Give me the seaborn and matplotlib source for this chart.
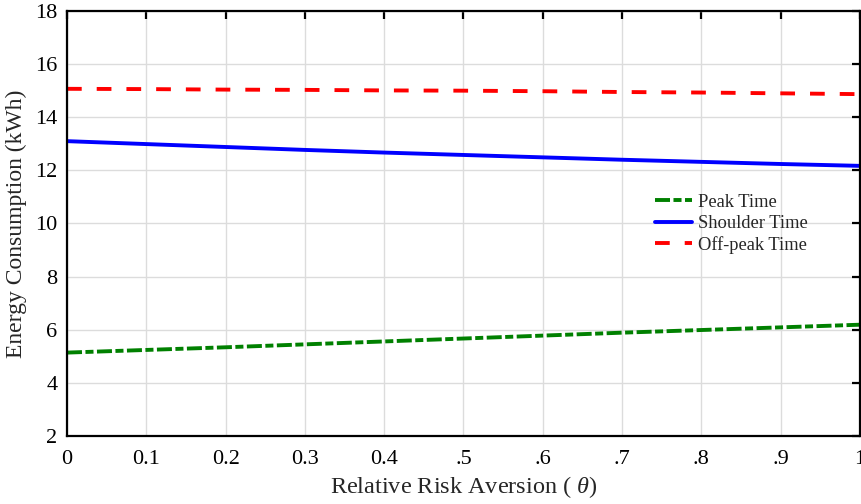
import numpy as np
import pandas as pd
import matplotlib
matplotlib.use("Agg")
import matplotlib.pyplot as plt
import seaborn as sns

theta = [0.0, 0.1, 0.2, 0.3, 0.4, 0.5, 0.6, 0.7, 0.8, 0.9, 1.0]
peak = [5.14, 5.24, 5.34, 5.45, 5.56, 5.67, 5.78, 5.89, 5.99, 6.09, 6.19]
shoulder = [13.10, 12.99, 12.88, 12.77, 12.67, 12.58, 12.49, 12.40, 12.32, 12.24, 12.17]
offpeak = [15.07, 15.06, 15.04, 15.03, 15.01, 15.00, 14.98, 14.95, 14.93, 14.90, 14.87]
series_names = ["Peak Time", "Shoulder Time", "Off-peak Time"]
series_colors = ["#008000", "#0000ff", "#ff0000"]
xtick_vals = [0, 0.1, 0.2, 0.3, 0.4, 0.5, 0.6, 0.7, 0.8, 0.9, 1.0]
xtick_labels = ["0", "0.1", "0.2", "0.3", "0.4", ".5", ".6", ".7", ".8", ".9", "1"]
ytick_vals = [2, 4, 6, 8, 10, 12, 14, 16, 18]

sns.set_style("white")
plt.rcParams["font.family"] = ["Liberation Serif", "DejaVu Serif"]
plt.rcParams["mathtext.fontset"] = "custom"
plt.rcParams["mathtext.it"] = "Liberation Serif:italic"
plt.rcParams["mathtext.rm"] = "Liberation Serif"
plt.rcParams["lines.scale_dashes"] = False

df = pd.DataFrame({
    "theta": theta * 3,
    "value": peak + shoulder + offpeak,
    "series": [series_names[0]] * len(theta) + [series_names[1]] * len(theta) + [series_names[2]] * len(theta),
})

fig = plt.figure(figsize=(8.61, 5.04), dpi=100)
ax = fig.add_axes([0.0778, 0.1349, 0.9210, 0.8433])

dashes = {
    "Peak Time": (10.8, 2.5, 5.8, 2.5),
    "Shoulder Time": "",
    "Off-peak Time": (10.6, 10.8),
}
sns.lineplot(data=df, x="theta", y="value", hue="series", style="series",
             hue_order=series_names, style_order=series_names,
             palette=dict(zip(series_names, series_colors)), dashes=dashes,
             linewidth=2.8, ax=ax, legend=True)

ax.set_xlim(0, 1)
ax.set_ylim(2, 18)
ax.set_xticks(xtick_vals)
ax.set_xticklabels(xtick_labels)
ax.set_yticks(ytick_vals)
ax.grid(True, color="#dcdcdc", linewidth=1.0)
for s in ax.spines.values():
    s.set_color("black")
    s.set_linewidth(1.6)
    s.set_visible(True)
ax.tick_params(direction="in", length=6, width=1.6, top=True, right=True,
               labelsize=16, colors="black")
ax.tick_params(axis="x", pad=10)
ax.tick_params(axis="y", pad=7)
ax.set_xlabel("Relative Risk Aversion ( $\\theta$)", fontsize=17.5, labelpad=4)
ax.set_ylabel("Energy Consumption (kWh)", fontsize=17, labelpad=6)

leg = ax.legend(loc="center left", bbox_to_anchor=(0.741, 0.499), frameon=False,
                borderpad=0, borderaxespad=0,
                fontsize=13.3, handlelength=2.0, handletextpad=0.35, labelspacing=0.22)

fig.savefig("out.png", dpi=100)
